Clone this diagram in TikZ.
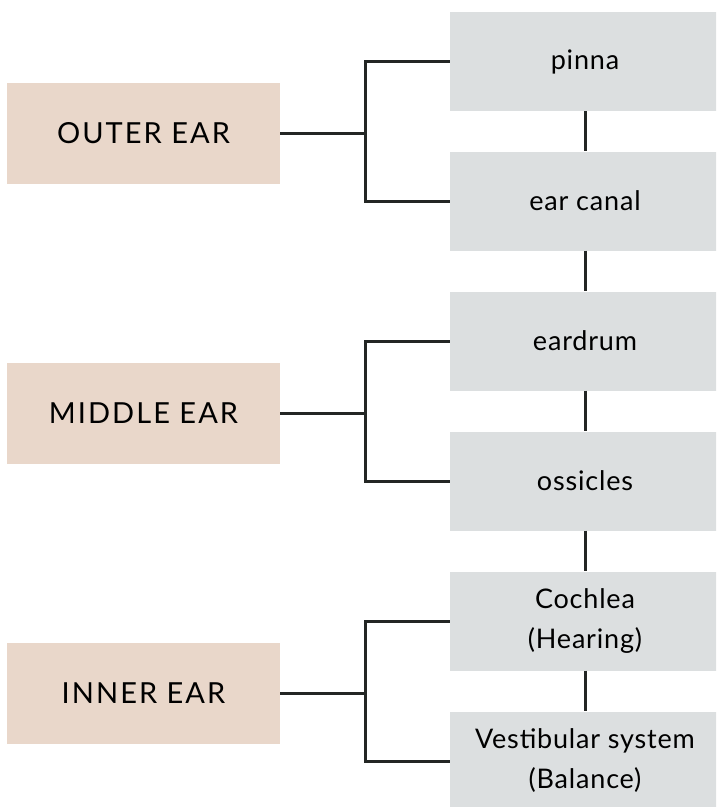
\documentclass[tikz,border=0pt]{standalone}
\usepackage{fontspec}
\setmainfont{Lato}
\usetikzlibrary{positioning}

\definecolor{earpeach}{RGB}{233,215,202}
\definecolor{partgrey}{RGB}{220,223,224}
\definecolor{linedark}{RGB}{35,38,36}

\newfontfamily\regionfont[LetterSpace=7]{Lato}
\newfontfamily\partfont[LetterSpace=3]{Lato}

\begin{document}
\begin{tikzpicture}[x=1pt, y=-1pt,
    region/.style={rectangle, fill=earpeach, inner sep=0pt, minimum width=273pt, minimum height=101pt, font=\regionfont\fontsize{29}{32}\selectfont},
    part/.style={rectangle, fill=partgrey, inner sep=0pt, minimum width=270pt, minimum height=99pt, align=center, font=\partfont\fontsize{27}{40}\selectfont},
    link/.style={draw=linedark, line width=3pt}]

      % Canvas
      \clip (0,0) rectangle (716,807);

      % Distance from a region box to its fork
      \def\fork{85}

      % Parts of the ear, top to bottom
      \node[part] (pinna)      at (585, 61.5) {pinna};
      \node[part] (canal)      at (585, 201)  {ear canal};
      \node[part] (eardrum)    at (585, 341)  {eardrum};
      \node[part] (ossicles)   at (585, 481)  {ossicles};
      \node[part] (cochlea)    at (585, 621)  {Cochlea\\(Hearing)};
      \node[part] (vestibular) at (585, 761)  {Vestibular system\\(Balance)};

      % The three regions
      \node[region] (outer)  at (143.5, 133) {OUTER EAR};
      \node[region] (middle) at (143.5, 413) {MIDDLE EAR};
      \node[region] (inner)  at (143.5, 693) {INNER EAR};

      % Chain down the parts
      \foreach \a/\b in {pinna/canal, canal/eardrum, eardrum/ossicles, ossicles/cochlea, cochlea/vestibular} {
        \draw[link] (\a) -- (\b);
      }

      % Brackets from each region to its two parts
      \foreach \r/\a/\b in {outer/pinna/canal, middle/eardrum/ossicles, inner/cochlea/vestibular} {
        \coordinate (f\r) at ([xshift=\fork pt] \r.east);
        \draw[link] (\r.east) -- (f\r);
        \draw[link] (\a.west) -| (f\r) |- (\b.west);
      }
    \end{tikzpicture}
\end{document}
